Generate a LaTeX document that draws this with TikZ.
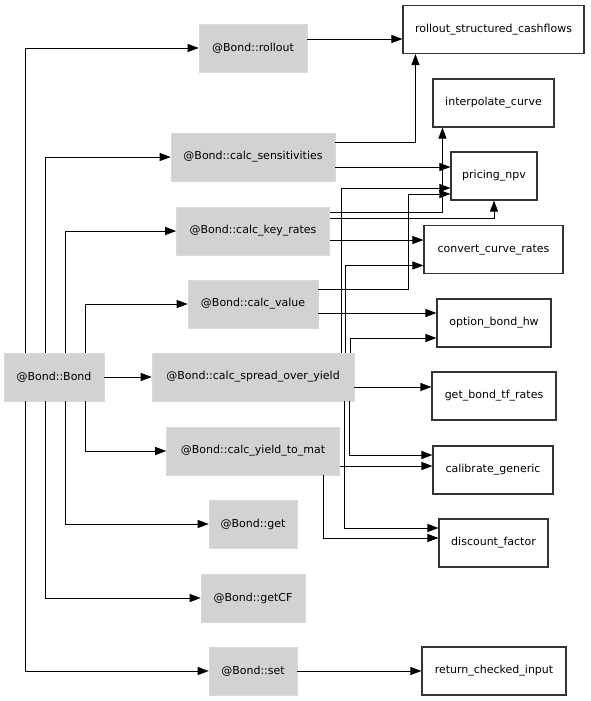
\documentclass[tikz,border=0pt]{standalone}
\usepackage{fontspec}
\setmainfont{DejaVu Sans}
\usetikzlibrary{arrows.meta,calc}
\begin{document}
\begin{tikzpicture}[x=1pt,y=-1pt,
  fn/.style={rectangle,fill=gray!35,draw=gray!30,line width=0.6pt,minimum height=48pt,inner sep=0pt,font=\fontsize{11}{13}\selectfont},
  ext/.style={rectangle,fill=white,draw=black!80,line width=1.1pt,minimum height=48pt,inner sep=0pt,font=\fontsize{11}{13}\selectfont},
  e/.style={draw=black,line width=0.9pt,-{Triangle[length=11pt,width=8pt]}}]
\useasboundingbox (0,0) rectangle (591,701);
\fill[white] (0,0) rectangle (591,701);
% function nodes
\node[fn,minimum width=108pt] (rollout) at (253,48) {@Bond::rollout};
\node[fn,minimum width=164pt] (sens) at (253,157) {@Bond::calc\_sensitivities};
\node[fn,minimum width=153pt] (kr) at (253,231) {@Bond::calc\_key\_rates};
\node[fn,minimum width=130pt] (cv) at (253,304) {@Bond::calc\_value};
\node[fn,minimum width=100pt] (bond) at (54,377) {@Bond::Bond};
\node[fn,minimum width=202pt] (spr) at (253,377) {@Bond::calc\_spread\_over\_yield};
\node[fn,minimum width=173pt] (ytm) at (253,451) {@Bond::calc\_yield\_to\_mat};
\node[fn,minimum width=88pt] (get) at (253,524) {@Bond::get};
\node[fn,minimum width=104pt] (getcf) at (253,598) {@Bond::getCF};
\node[fn,minimum width=88pt] (set) at (253,671) {@Bond::set};
% external nodes
\node[ext,minimum width=181pt] (rsc) at (493.5,29.5) {rollout\_structured\_cashflows};
\node[ext,minimum width=121pt] (interp) at (493.5,103) {interpolate\_curve};
\node[ext,minimum width=86pt] (pnpv) at (494,176) {pricing\_npv};
\node[ext,minimum width=139pt] (ccr) at (493.5,249.5) {convert\_curve\_rates};
\node[ext,minimum width=114pt] (obh) at (494,323) {option\_bond\_hw};
\node[ext,minimum width=124pt] (gbtf) at (494,396) {get\_bond\_tf\_rates};
\node[ext,minimum width=120pt] (calib) at (493,470) {calibrate\_generic};
\node[ext,minimum width=109pt] (df) at (493.5,543) {discount\_factor};
\node[ext,minimum width=144pt] (rci) at (494,671) {return\_checked\_input};
% edges from Bond
\draw[e] ($(bond.north)+(-29,0)$) |- (rollout.west);
\draw[e] ($(bond.north)+(-9,0)$) |- (sens.west);
\draw[e] ($(bond.north)+(11,0)$) |- (kr.west);
\draw[e] ($(bond.north)+(31,0)$) |- (cv.west);
\draw[e] (bond.east) -- (spr.west);
\draw[e] ($(bond.south)+(31,0)$) |- (ytm.west);
\draw[e] ($(bond.south)+(11,0)$) |- (get.west);
\draw[e] ($(bond.south)+(-9,0)$) |- (getcf.west);
\draw[e] ($(bond.south)+(-29,0)$) |- (set.west);
% rollout
\draw[e] ($(rollout.east)+(0,-9)$) coordinate (c1) -- (c1 -| rsc.west);
% sensitivities
\draw[e] ($(sens.east)+(0,-15)$) -| ($(rsc.south west)+(13,0)$);
\draw[e] ($(sens.east)+(0,10)$) coordinate (c3) -- (c3 -| pnpv.west);
% key rates
\draw[e] ($(kr.east)+(0,-19)$) -| ($(interp.south west)+(10,0)$);
\draw[e] ($(kr.east)+(0,-13)$) -| (pnpv.south);
\draw[e] ($(kr.east)+(0,9)$) coordinate (c6) -- (c6 -| ccr.west);
% calc value
\draw[e] ($(cv.east)+(0,-15)$) -| ($(pnpv.west)+(-42,18)$) -- ($(pnpv.west)+(0,18)$);
\draw[e] ($(cv.east)+(0,9)$) coordinate (c8) -- (c8 -| obh.west);
% spread over yield
\draw[e] ($(spr.north)+(88,0)$) |- ($(pnpv.west)+(0,12)$);
\draw[e] ($(spr.north)+(92,0)$) |- ($(ccr.west)+(0,16)$);
\draw[e] ($(spr.north)+(97,0)$) |- ($(obh.west)+(0,15)$);
\draw[e] ($(spr.east)+(0,10)$) coordinate (c12) -- (c12 -| gbtf.west);
\draw[e] ($(spr.south)+(96,0)$) |- ($(calib.west)+(0,-15)$);
\draw[e] ($(spr.south)+(91,0)$) |- ($(df.west)+(0,-15)$);
% yield to mat
\draw[e] ($(ytm.east)+(0,15)$) coordinate (c15) -- (c15 -| calib.west);
\draw[e] ($(ytm.south)+(70,0)$) |- ($(df.west)+(0,-5)$);
% set
\draw[e] (set.east) -- (rci.west);
\end{tikzpicture}
\end{document}
